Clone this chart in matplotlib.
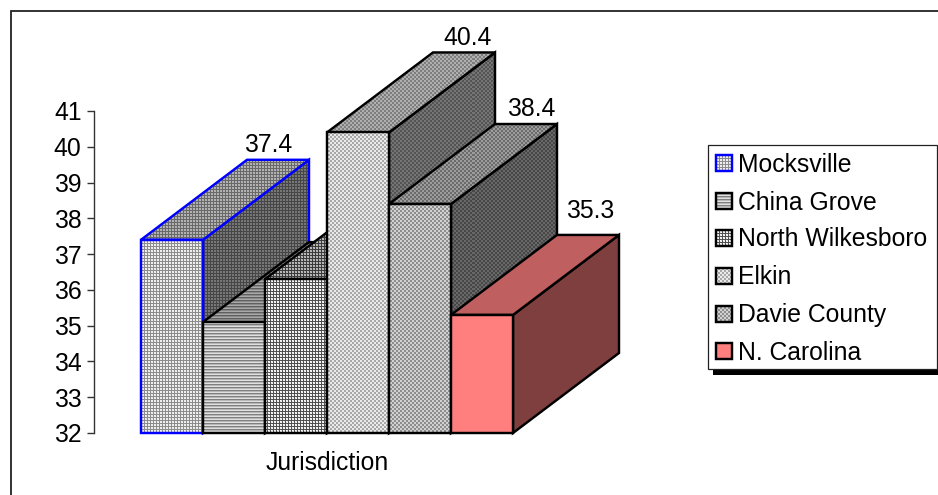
import numpy as np
from matplotlib import pyplot as plt
from matplotlib.patches import Polygon, Rectangle

plt.rcParams['font.family'] = ['Liberation Sans', 'DejaVu Sans']

jurisdictions = ["Mocksville", "China Grove", "North Wilkesboro", "Elkin", "Davie County", "N. Carolina"]
rates = [37.4, 35.1, 36.3, 40.4, 38.4, 35.3]
shown_labels = ["37.4", None, None, "40.4", "38.4", "35.3"]
edge_colors = ["#0000ff", "black", "black", "black", "black", "black"]
y_ticks = list(range(32, 42))

W, H = 938, 495
X0, Y0, BAR_W, UNIT = 141, 433, 62, 35.78
DEPTH_X = 106 / BAR_W  # oblique depth, in category widths
DEPTH_Y = 80 / UNIT    # oblique depth, in value units
TOP_SHADE, SIDE_SHADE = 0.75, 0.5
FONT_SIZE = 17.8
EDGE_LW = 1.75

# label nudges in points, the labels do not sit at a constant distance from the bars
label_nudges = {"37.4": (-7, 2), "40.4": (2.5, 2), "38.4": (3.5, 2), "35.3": (1.5, 8.5)}

# small grey tiles for the fill patterns
patterns = {
    "Mocksville": np.array([[.55, .55, .55], [.55, .95, .92], [.55, .92, .95]]),
    "China Grove": np.array([[.5, .5, .5], [.72, .72, .72], [.88, .88, .88]]),
    "North Wilkesboro": np.array([[.3, .35, .3], [.35, 1, .9], [.3, .9, 1]]),
    "Elkin": np.array([[.92, .92, .66, .66], [.92, .92, .66, .66], [.66, .66, .92, .92], [.66, .66, .92, .92]]),
    "Davie County": np.array([[.82, .82, .56, .56], [.82, .82, .56, .56], [.56, .56, .82, .82], [.56, .56, .82, .82]]),
}
solid_colors = {"N. Carolina": np.array([1, .5, .5])}


def tile_image(name, rows, cols, shade=1.0):
    if name in solid_colors:
        return np.ones((rows, cols, 3)) * solid_colors[name] * shade
    tile = patterns[name]
    reps = (rows // tile.shape[0] + 1, cols // tile.shape[1] + 1)
    grey = np.tile(tile, reps)[:rows, :cols] * shade
    return np.dstack([grey, grey, grey])


def draw_face(corners, name, shade, edge, zorder):
    poly = Polygon(corners, closed=True, transform=ax.transData, facecolor="none", edgecolor=edge,
                   lw=EDGE_LW, joinstyle="miter", clip_on=False, zorder=zorder + 0.5)
    ax.add_patch(poly)
    im = ax.imshow(tile_image(name, H, W, shade), extent=full_extent, origin="upper", aspect="auto",
                   interpolation="nearest", zorder=zorder)
    im.set_clip_box(fig.bbox)
    im.set_clip_path(poly)


fig = plt.figure(figsize=(W / 100, H / 100), dpi=100, facecolor="white")

# -----------------------frame and legend, in pixel coordinates-------------------------
ax_px = fig.add_axes([0, 0, 1, 1], zorder=0)
ax_px.set_xlim(0, W)
ax_px.set_ylim(H, 0)
ax_px.axis("off")
ax_px.plot([10.5, 10.5, W], [H, 10.5, 10.5], color="#222222", lw=1.3, solid_joinstyle="miter")

ax_px.add_patch(Rectangle((713, 150), 225, 225, facecolor="black", edgecolor="none"))
ax_px.add_patch(Rectangle((707.5, 144.5), 229.5, 224.5, facecolor="white", edgecolor="#222222", lw=0.9))
legend_rows = [163, 201, 238, 276, 313.5, 351]
for name, edge, row in zip(jurisdictions, edge_colors, legend_rows):
    ax_px.imshow(tile_image(name, 16, 16), extent=(716, 732, row + 8, row - 8), origin="upper", aspect="auto",
                 interpolation="nearest", zorder=3)
    ax_px.add_patch(Rectangle((716, row - 8), 16, 16, facecolor="none", edgecolor=edge, lw=EDGE_LW, zorder=4))
    ax_px.text(738, row - 1, name, fontsize=FONT_SIZE, va="center_baseline", ha="left", color="black")
ax_px.set_xlim(0, W)
ax_px.set_ylim(H, 0)

# -----------------------chart axes-------------------------
ax = fig.add_axes([X0 / W, 1 - Y0 / H, 6 * BAR_W / W, 9 * UNIT / H], zorder=1)
ax.patch.set_visible(False)
full_extent = ((0 - X0) / BAR_W, (W - X0) / BAR_W, 32 - (H - Y0) / UNIT, 32 + Y0 / UNIT)

for i, (name, value, label, edge) in enumerate(zip(jurisdictions, rates, shown_labels, edge_colors)):
    z = 2 + i * 2
    front = [(i, 32), (i + 1, 32), (i + 1, value), (i, value)]
    top = [(i, value), (i + 1, value), (i + 1 + DEPTH_X, value + DEPTH_Y), (i + DEPTH_X, value + DEPTH_Y)]
    side = [(i + 1, 32), (i + 1 + DEPTH_X, 32 + DEPTH_Y), (i + 1 + DEPTH_X, value + DEPTH_Y), (i + 1, value)]
    draw_face(side, name, SIDE_SHADE, edge, z)
    draw_face(top, name, TOP_SHADE, edge, z + 0.6)
    draw_face(front, name, 1.0, edge, z + 1.2)
    if label:
        ax.annotate(label, (i + 0.5 + DEPTH_X, value + DEPTH_Y), xytext=label_nudges[label], textcoords="offset points",
                    fontsize=FONT_SIZE, ha="center", va="bottom", annotation_clip=False, zorder=30)

ax.set_xlim(0, 6)
ax.set_ylim(32, 41)
ax.set_yticks(y_ticks)
ax.set_xticks([])
for side_name in ["top", "right", "bottom"]:
    ax.spines[side_name].set_visible(False)
ax.spines["left"].set_position(("outward", 33.8))
ax.spines["left"].set_color("#333333")
ax.spines["left"].set_linewidth(1)
ax.tick_params(axis="y", length=5, width=1, color="#333333", labelsize=FONT_SIZE, pad=4)
for tick_label in ax.get_yticklabels():
    tick_label.set_va("center_baseline")
ax.set_xlabel("Jurisdiction", fontsize=FONT_SIZE, labelpad=13)

fig.savefig("out.png", dpi=100)
